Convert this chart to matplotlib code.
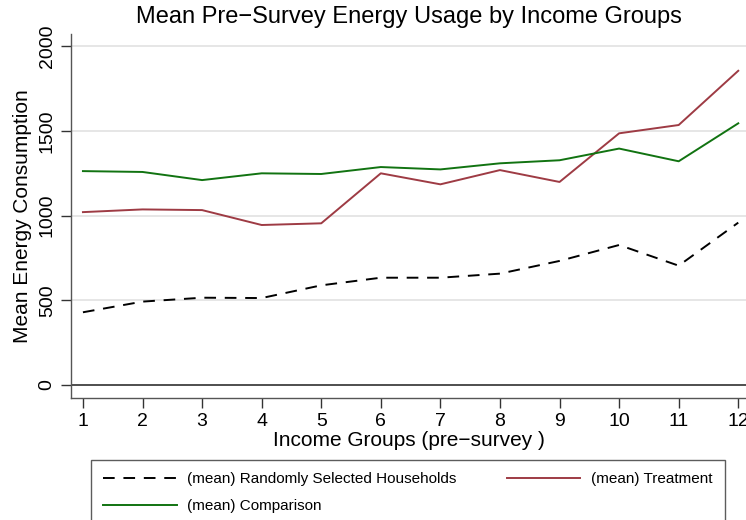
import numpy as np
import matplotlib
matplotlib.use("Agg")
import matplotlib.pyplot as plt

plt.rcParams['font.family'] = ['Liberation Sans', 'DejaVu Sans']

# mean pre-survey energy usage per income group
income_groups = [1, 2, 3, 4, 5, 6, 7, 8, 9, 10, 11, 12]
random_hh = [429, 492, 515, 513, 588, 633, 633, 657, 732, 826, 704, 958]
treatment = [1020, 1036, 1032, 944, 954, 1249, 1184, 1268, 1198, 1485, 1534, 1854]
comparison = [1262, 1257, 1209, 1249, 1245, 1286, 1272, 1308, 1326, 1395, 1320, 1544]

y_ticks = [0, 500, 1000, 1500, 2000]

fig = plt.figure(figsize=(7.46, 5.2), dpi=100)
ax = fig.add_axes([0.0952, 0.2352, 0.9048, 0.6994])

for y in y_ticks[1:]:
    ax.axhline(y, color='#e6e6e6', lw=1.4, zorder=0)
ax.axhline(0, color='#404040', lw=1.3, zorder=1)

l1, = ax.plot(income_groups, random_hh, color='black', lw=1.4, dashes=(6, 4.5))
l2, = ax.plot(income_groups, treatment, color='#9e3b44', lw=1.4)
l3, = ax.plot(income_groups, comparison, color='#117311', lw=1.4)

ax.set_xlim(0.8, 12.13)
ax.set_ylim(-75, 2071)
ax.set_xticks(income_groups)
ax.set_yticks(y_ticks)

for side in ['top', 'right']:
    ax.spines[side].set_visible(False)
for side in ['left', 'bottom']:
    ax.spines[side].set_color('#555555')
    ax.spines[side].set_linewidth(1.0)

ax.tick_params(axis='both', direction='out', length=7, width=1, color='#333333',
               labelsize=14, pad=4)
for lab in ax.get_yticklabels():
    lab.set_rotation(90)
    lab.set_va('center')

ax.set_xlabel('Income Groups (pre\u2212survey )', fontsize=15, labelpad=1)
ax.set_ylabel('Mean Energy Consumption', fontsize=15, labelpad=5)
ax.set_title('Mean Pre\u2212Survey Energy Usage by Income Groups', fontsize=17, pad=8)

leg = fig.legend([l1, l3, l2],
                 ['(mean) Randomly Selected Households', '(mean) Comparison', '(mean) Treatment'],
                 ncol=2, loc='upper left', bbox_to_anchor=(0.122, 0.116),
                 fontsize=11, frameon=True, fancybox=False, handlelength=4.8,
                 handletextpad=0.7, columnspacing=3.3, labelspacing=0.87,
                 borderpad=0.8, borderaxespad=0)
leg.get_frame().set_edgecolor('#333333')
leg.get_frame().set_linewidth(1.0)

fig.savefig('out.png', dpi=100)
